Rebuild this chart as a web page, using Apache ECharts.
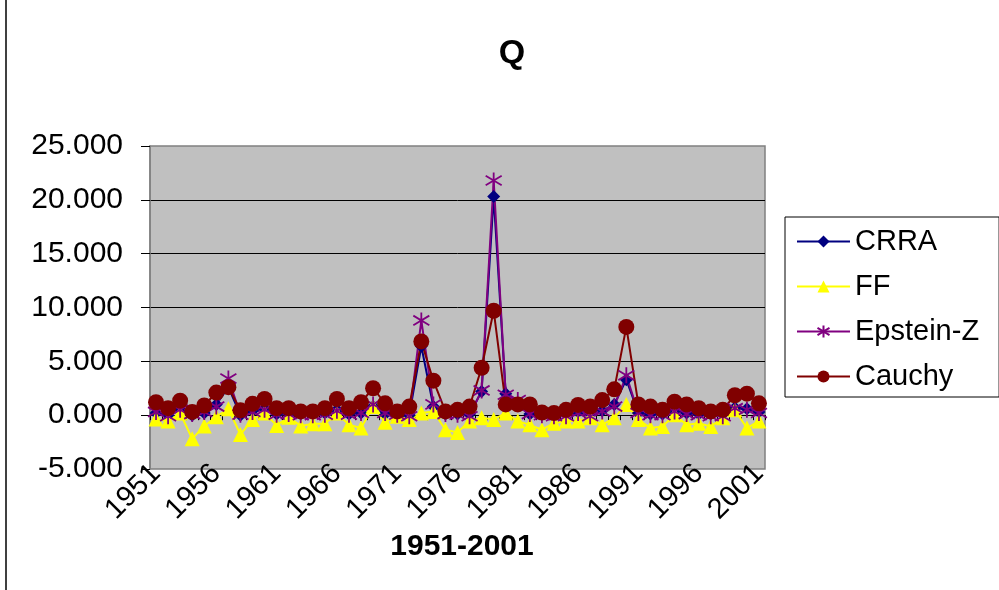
<!DOCTYPE html>
<html>
<head>
<meta charset="utf-8">
<script src="https://cdn.jsdelivr.net/npm/echarts@6/dist/echarts.min.js"></script>
<style>
  html, body { margin: 0; padding: 0; background: #fff; }
  #main { width: 999px; height: 590px; }
</style>
</head>
<body>
<div id="main"></div>
<script>
var years = ['1951','1952','1953','1954','1955','1956','1957','1958','1959','1960',
             '1961','1962','1963','1964','1965','1966','1967','1968','1969','1970',
             '1971','1972','1973','1974','1975','1976','1977','1978','1979','1980',
             '1981','1982','1983','1984','1985','1986','1987','1988','1989','1990',
             '1991','1992','1993','1994','1995','1996','1997','1998','1999','2000','2001'];

var crra    = [0.2, 0.0, 0.5, 0.0, 0.2, 1.0, 2.6, 0.0, 0.4, 0.6,
               0.1, 0.2, 0.1, 0.1, 0.2, 0.5, 0.1, 0.2, 0.8, 0.1,
               0.1, 0.0, 6.4, 0.8, 0.1, 0.1, 0.1, 2.2, 20.3, 2.0,
               0.9, 0.1, 0.1, 0.1, 0.2, 0.3, 0.2, 0.4, 1.0, 3.3,
               0.2, 0.1, 0.1, 0.4, 0.2, 0.1, 0.1, 0.1, 0.7, 0.6, 0.3];
var ff      = [-0.36, -0.55, 0.2, -2.2, -1.0, -0.15, 0.6, -1.8, -0.4, 0.2,
               -0.95, -0.2, -1.0, -0.8, -0.8, 0.2, -0.9, -1.2, 0.8, -0.65,
               -0.1, -0.4, 0.2, 0.35, -1.35, -1.6, -0.55, -0.25, -0.4, 0.2,
               -0.55, -0.9, -1.35, -0.75, -0.55, -0.55, -0.25, -0.9, -0.25, 1.0,
               -0.4, -1.2, -1.05, 0.05, -0.9, -0.75, -1.05, -0.25, 0.5, -1.2, -0.55];
var epstein = [0.3, -0.1, 0.5, 0.1, 0.3, 0.8, 3.4, 0.05, 0.3, 0.5,
               0.05, 0.1, 0.0, 0.0, 0.05, 0.4, 0.05, 0.2, 1.0, 0.2,
               0.05, -0.1, 8.8, 1.0, 0.1, 0.05, -0.1, 2.3, 21.8, 1.9,
               1.4, 0.1, 0.0, -0.1, -0.1, 0.2, -0.1, 0.35, 0.8, 3.7,
               0.2, 0.0, 0.0, 0.35, 0.1, 0.0, -0.1, -0.1, 0.65, 0.5, 0.2];
var cauchy  = [1.2, 0.65, 1.35, 0.3, 0.9, 2.1, 2.6, 0.45, 1.05, 1.5,
               0.65, 0.65, 0.35, 0.35, 0.65, 1.5, 0.65, 1.2, 2.5, 1.1,
               0.35, 0.8, 6.85, 3.2, 0.35, 0.5, 0.8, 4.4, 9.7, 1.0,
               1.0, 1.0, 0.25, 0.2, 0.5, 0.95, 0.8, 1.4, 2.4, 8.2,
               1.0, 0.8, 0.5, 1.25, 1.0, 0.65, 0.35, 0.5, 1.85, 2.0, 1.1];

var FONT = "'Liberation Sans', Arial, sans-serif";
var starPath = 'path://M10,0 L10,20 M2,4 L18,16 M2,16 L18,4';

var myChart = echarts.init(document.getElementById('main'));
var option = {
    backgroundColor: '#ffffff',
    animation: false,
    title: [
        { text: 'Q', left: 507, top: 32, textAlign: 'center',
          textStyle: { fontFamily: FONT, fontSize: 34, fontWeight: 'bold', color: '#000' } },
        { text: '1951-2001', left: 457, top: 527, textAlign: 'center',
          textStyle: { fontFamily: FONT, fontSize: 30, fontWeight: 'bold', color: '#000' } }
    ],
    legend: {
        orient: 'vertical',
        left: 785, top: 217,
        padding: [10, 20, 6, 11],
        itemGap: 16,
        itemWidth: 53,
        itemHeight: 15,
        backgroundColor: '#ffffff',
        borderColor: '#000000',
        borderWidth: 1,
        textStyle: { fontFamily: FONT, fontSize: 29, color: '#000' },
        data: ['CRRA', 'FF', 'Epstein-Z', 'Cauchy']
    },
    grid: {
        left: 150, right: 234, top: 146, bottom: 121,
        show: true,
        backgroundColor: '#c0c0c0',
        borderColor: '#808080',
        borderWidth: 1.5
    },
    xAxis: [
        {
            type: 'category', data: years, position: 'bottom',
            boundaryGap: true,
            axisLine: { show: false, onZero: false },
            axisTick: { show: false },
            axisLabel: { interval: 4, rotate: 45, margin: 0,
                         fontFamily: FONT, fontSize: 29, color: '#000' }
        },
        {
            type: 'category', data: years, position: 'bottom',
            boundaryGap: true,
            axisLine: { show: true, onZero: true, lineStyle: { color: '#000', width: 1.2 } },
            axisTick: { show: true, interval: 0, length: 5, lineStyle: { color: '#000' } },
            axisLabel: { show: false }
        }
    ],
    yAxis: {
        type: 'value', min: -5, max: 25, interval: 5,
        axisLine: { show: true, lineStyle: { color: '#808080', width: 1.5 } },
        axisTick: { show: true, length: 9, lineStyle: { color: '#000' } },
        axisLabel: { margin: 27, fontFamily: FONT, fontSize: 30, color: '#000',
                     formatter: function (v) { return v.toFixed(3); } },
        splitLine: { show: true, showMinLine: false, showMaxLine: false,
                     lineStyle: { color: '#000', width: 1 } }
    },
    series: [
        { name: 'CRRA', type: 'line', data: crra, symbol: 'diamond', symbolSize: 13,
          showAllSymbol: true,
          color: '#000080', lineStyle: { color: '#000080', width: 2 },
          itemStyle: { color: '#000080' } },
        { name: 'FF', type: 'line', data: ff, symbol: 'triangle', symbolSize: 15,
          showAllSymbol: true,
          color: '#ffff00', lineStyle: { color: '#ffff00', width: 2 },
          itemStyle: { color: '#ffff00' } },
        { name: 'Epstein-Z', type: 'line', data: epstein, symbol: starPath, symbolSize: 16,
          showAllSymbol: true,
          color: '#800080', lineStyle: { color: '#800080', width: 2 },
          itemStyle: { color: 'rgba(0,0,0,0)', borderColor: '#800080', borderWidth: 1.8 } },
        { name: 'Cauchy', type: 'line', data: cauchy, symbol: 'circle', symbolSize: 16,
          showAllSymbol: true,
          color: '#800000', lineStyle: { color: '#800000', width: 2 },
          itemStyle: { color: '#800000' } }
    ],
    graphic: [
        { type: 'line', shape: { x1: 6, y1: 0, x2: 6, y2: 590 },
          style: { stroke: '#000', lineWidth: 1.5 } }
    ]
};
myChart.setOption(option);
</script>
</body>
</html>
